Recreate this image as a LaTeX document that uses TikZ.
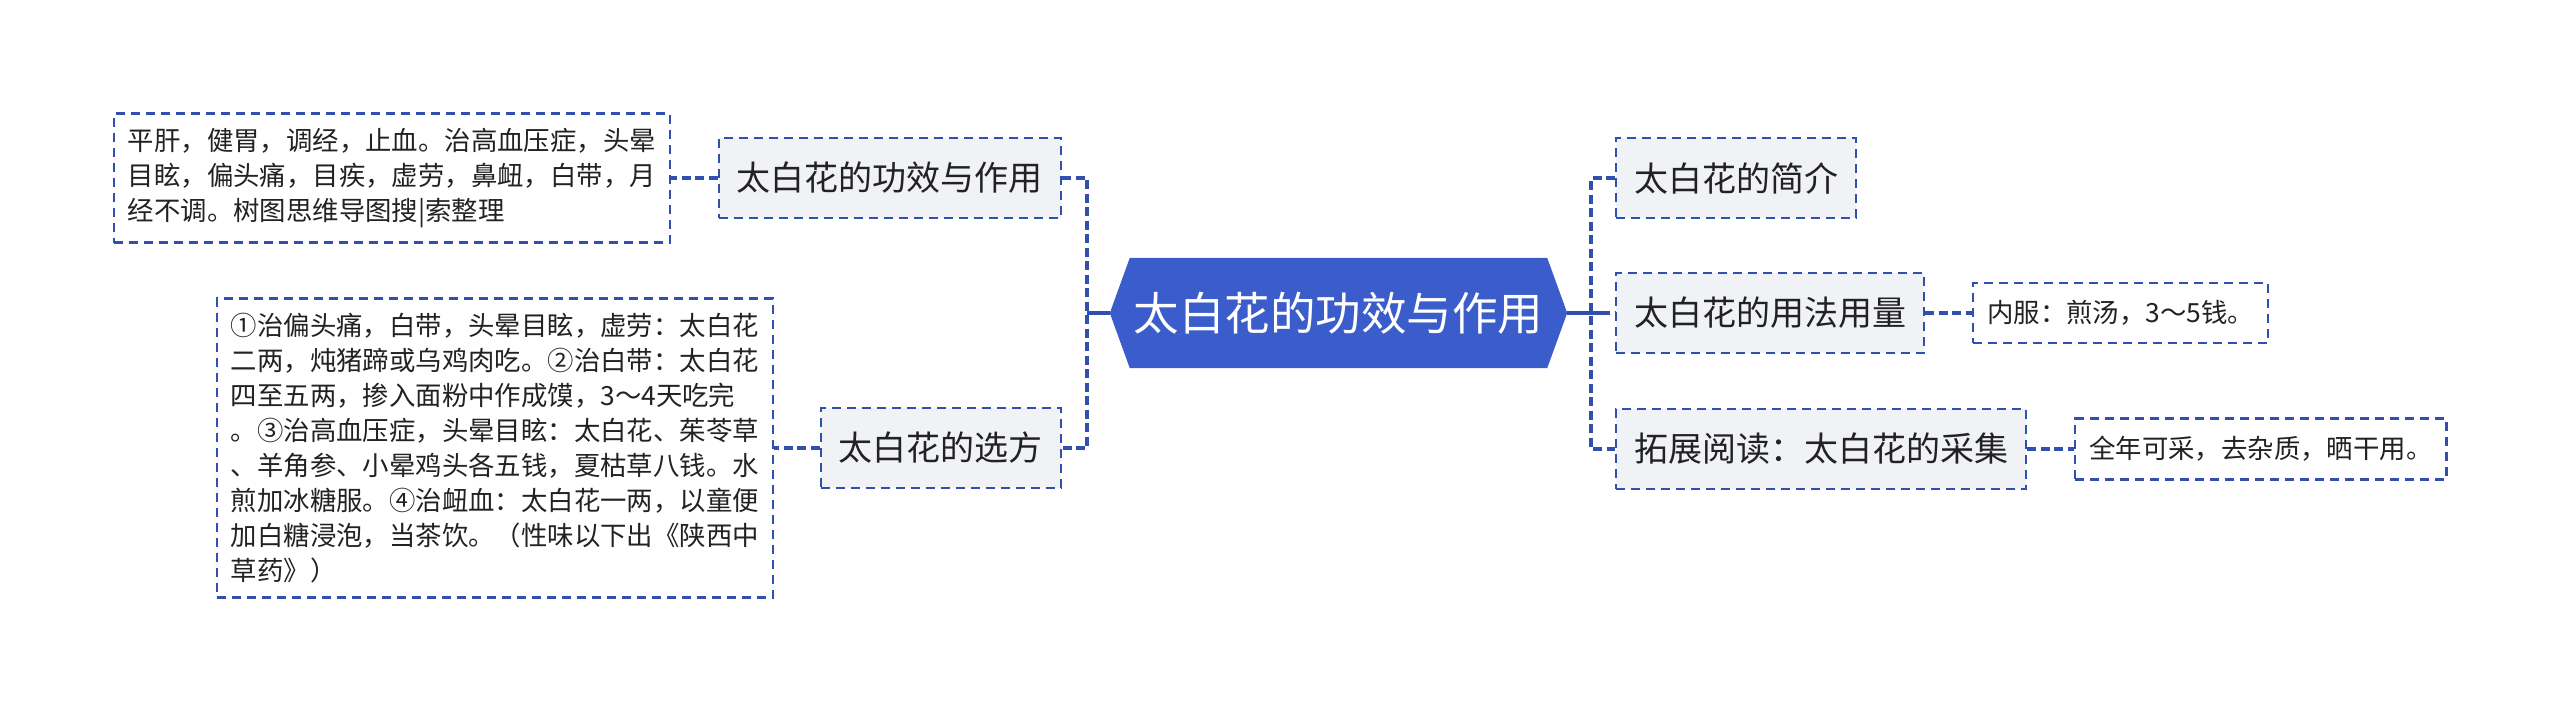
\documentclass[tikz,border=0pt]{standalone}
\usepackage{fontspec}
\newfontfamily\cjk{Noto Sans CJK SC}
\usetikzlibrary{backgrounds}
\definecolor{linec}{HTML}{3050B0}
\definecolor{hexc}{HTML}{3B5DCC}
\definecolor{boxc}{HTML}{F0F2F5}
\definecolor{txtc}{HTML}{222222}
\tikzset{
  conn/.style={draw=linec, line width=3.2pt, dash pattern=on 9pt off 4.5pt},
  trunk/.style={draw=linec, line width=3.2pt},
  branchbox/.style={draw=linec, fill=boxc, line width=2.4pt, dash pattern=on 9pt off 6pt,
    font=\cjk\fontsize{34}{40}\selectfont, text=txtc, inner xsep=18pt, inner ysep=0pt, minimum height=80pt},
  leafbox/.style={draw=linec, fill=white, line width=2.4pt, dash pattern=on 9pt off 6pt,
    font=\cjk\fontsize{26.4}{35}\selectfont, text=txtc, inner xsep=14pt, inner ysep=0pt, align=left},
  centerbox/.style={font=\cjk\fontsize{45.5}{55}\selectfont, text=white, minimum width=457pt,
    minimum height=110pt, inner sep=0pt},
}
\begin{document}
\begin{tikzpicture}[x=1pt,y=-1pt]
\useasboundingbox (0,0) rectangle (2560,713);

% center
\node[centerbox] (c) at (1338.5,313) {太白花的功效与作用};
\begin{scope}[on background layer]
\fill[hexc] (c.west) -- ([xshift=20pt]c.north west) -- ([xshift=-20pt]c.north east) -- (c.east)
  -- ([xshift=-20pt]c.south east) -- ([xshift=20pt]c.south west) -- cycle;
\end{scope}

% branches
\node[branchbox, anchor=east] (lb1) at (1062,178) {太白花的功效与作用};
\node[branchbox, anchor=east] (lb2) at (1062,448) {太白花的选方};
\node[branchbox, anchor=west] (rb1) at (1615,178) {太白花的简介};
\node[branchbox, anchor=west] (rb2) at (1615,313) {太白花的用法用量};
\node[branchbox, anchor=west] (rb3) at (1615,449) {拓展阅读：太白花的采集};

% leaves
\node[leafbox, anchor=east, minimum height=129pt] (ll1) at (671,178) {平肝，健胃，调经，止血。治高血压症，头晕\\目眩，偏头痛，目疾，虚劳，鼻衄，白带，月\\经不调。树图思维导图搜|索整理};
\node[leafbox, anchor=east, minimum height=299pt] (ll2) at (774,448) {①治偏头痛，白带，头晕目眩，虚劳：太白花\\二两，炖猪蹄或乌鸡肉吃。②治白带：太白花\\四至五两，掺入面粉中作成馍，3～4天吃完\\。③治高血压症，头晕目眩：太白花、茱苓草\\、羊角参、小晕鸡头各五钱，夏枯草八钱。水\\煎加冰糖服。④治衄血：太白花一两，以童便\\加白糖浸泡，当茶饮。（性味以下出《陕西中\\草药》）};
\node[leafbox, anchor=west, minimum height=60pt] (rl2) at (1972,313) {内服：煎汤，3～5钱。};
\node[leafbox, anchor=west, minimum height=61pt] (rl3) at (2074,449) {全年可采，去杂质，晒干用。};

% connectors
\coordinate (lv) at (1087,313);
\coordinate (rv) at (1591,313);
\draw[trunk] (c.west) -- (lv);
\draw[trunk] (c.east) -- ([xshift=10pt]rv);
\draw[conn] (lb1.east) -| (lv) |- (lb2.east);
\draw[conn] (rb1.west) -| (rv) |- (rb3.west);
\draw[conn] ([xshift=10pt]rv) -- (rb2.west);
\draw[conn] (lb1.west) -- (ll1.east);
\draw[conn] (lb2.west) -- (ll2.east);
\draw[conn] (rb2.east) -- (rl2.west);
\draw[conn] (rb3.east) -- (rl3.west);
\end{tikzpicture}
\end{document}
